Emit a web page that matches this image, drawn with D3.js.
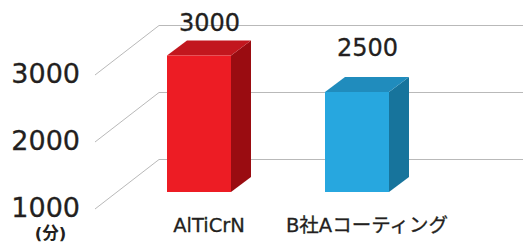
<!DOCTYPE html>
<html>
<head>
<meta charset="utf-8">
<script src="https://cdn.jsdelivr.net/npm/d3@7"></script>
<style>
  html, body { margin: 0; padding: 0; background: #fff; }
  svg { display: block; }
  text { font-family: "DejaVu Sans", "Noto Sans CJK JP", sans-serif; fill: #231f20; stroke: #231f20; stroke-width: 0.3; }
</style>
</head>
<body>
<svg id="chart" width="523" height="243"></svg>
<script>
// ---- data ----
const categories = ["AlTiCrN", "B社Aコーティング"];
const values = [3000, 2500];
const valueLabels = ["3000", "2500"];
const tickValues = [1000, 2000, 3000];
const tickLabels = ["1000", "2000", "3000"];
const unitLabel = "(分)";
const frontColors = ["#ed1c24", "#27a7df"];
const topColors = ["#c2171e", "#208cbd"];
const sideColors = ["#9a0c11", "#17749c"];

// ---- layout ----
const svg = d3.select("#chart");
const gridFrontX = 95, gridBackX = 159, gridDepthY = -49.5, gridRight = 523;
const yGrid = d3.scaleLinear().domain([1000, 3000]).range([209, 75]);

const xBar = d3.scalePoint().domain(categories).range([167, 325]);
const barW = 64;
const depthX = 20, depthY = -15;
const yBar = d3.scaleLinear().domain([2500, 3000]).range([92, 55.5]);
const baseY = 192;
const yLabel = d3.scaleLinear().domain([2500, 3000]).range([56, 31]);

// ---- grid ----
const grid = svg.append("g").attr("stroke", "#b9b9b9").attr("stroke-width", 1).attr("fill", "none");
grid.selectAll("polyline").data(tickValues).join("polyline")
  .attr("points", d => {
    const yf = yGrid(d), yb = yGrid(d) + gridDepthY;
    return `${gridFrontX},${yf} ${gridBackX},${yb} ${gridRight},${yb}`;
  });

// ---- y tick labels ----
svg.append("g").selectAll("text").data(tickValues).join("text")
  .attr("x", 80).attr("y", d => yGrid(d) + 7.5)
  .attr("text-anchor", "end")
  .attr("font-size", 27)
  .text((d, i) => tickLabels[i]);
svg.append("text").attr("x", 50.5).attr("y", 238.5)
  .attr("text-anchor", "middle").attr("font-size", 16.5).attr("font-weight", "bold")
  .style("stroke-width", 0)
  .text(unitLabel);

// ---- bars ----
const bars = svg.append("g").selectAll("g").data(values).join("g");
bars.append("polygon") // side
  .attr("fill", (d, i) => sideColors[i])
  .attr("points", (d, i) => {
    const x0 = xBar(categories[i]) + barW, yt = yBar(d);
    return `${x0},${yt} ${x0 + depthX},${yt + depthY} ${x0 + depthX},${baseY + depthY} ${x0},${baseY}`;
  });
bars.append("polygon") // top
  .attr("fill", (d, i) => topColors[i])
  .attr("points", (d, i) => {
    const x0 = xBar(categories[i]), yt = yBar(d);
    return `${x0},${yt} ${x0 + depthX},${yt + depthY} ${x0 + barW + depthX},${yt + depthY} ${x0 + barW},${yt}`;
  });
bars.append("rect") // front
  .attr("fill", (d, i) => frontColors[i])
  .attr("x", (d, i) => xBar(categories[i]))
  .attr("y", d => yBar(d))
  .attr("width", barW)
  .attr("height", d => baseY - yBar(d));

// value labels
bars.append("text")
  .attr("x", (d, i) => xBar(categories[i]) + (barW + depthX) / 2 + 0.5)
  .attr("y", d => yLabel(d))
  .attr("text-anchor", "middle")
  .attr("font-size", 24)
  .text((d, i) => valueLabels[i]);

// category labels
bars.append("text")
  .attr("x", (d, i) => xBar(categories[i]) + (barW + depthX) / 2)
  .attr("y", 232)
  .attr("text-anchor", "middle")
  .attr("font-size", 19.5)
  .text((d, i) => categories[i]);
</script>
</body>
</html>
